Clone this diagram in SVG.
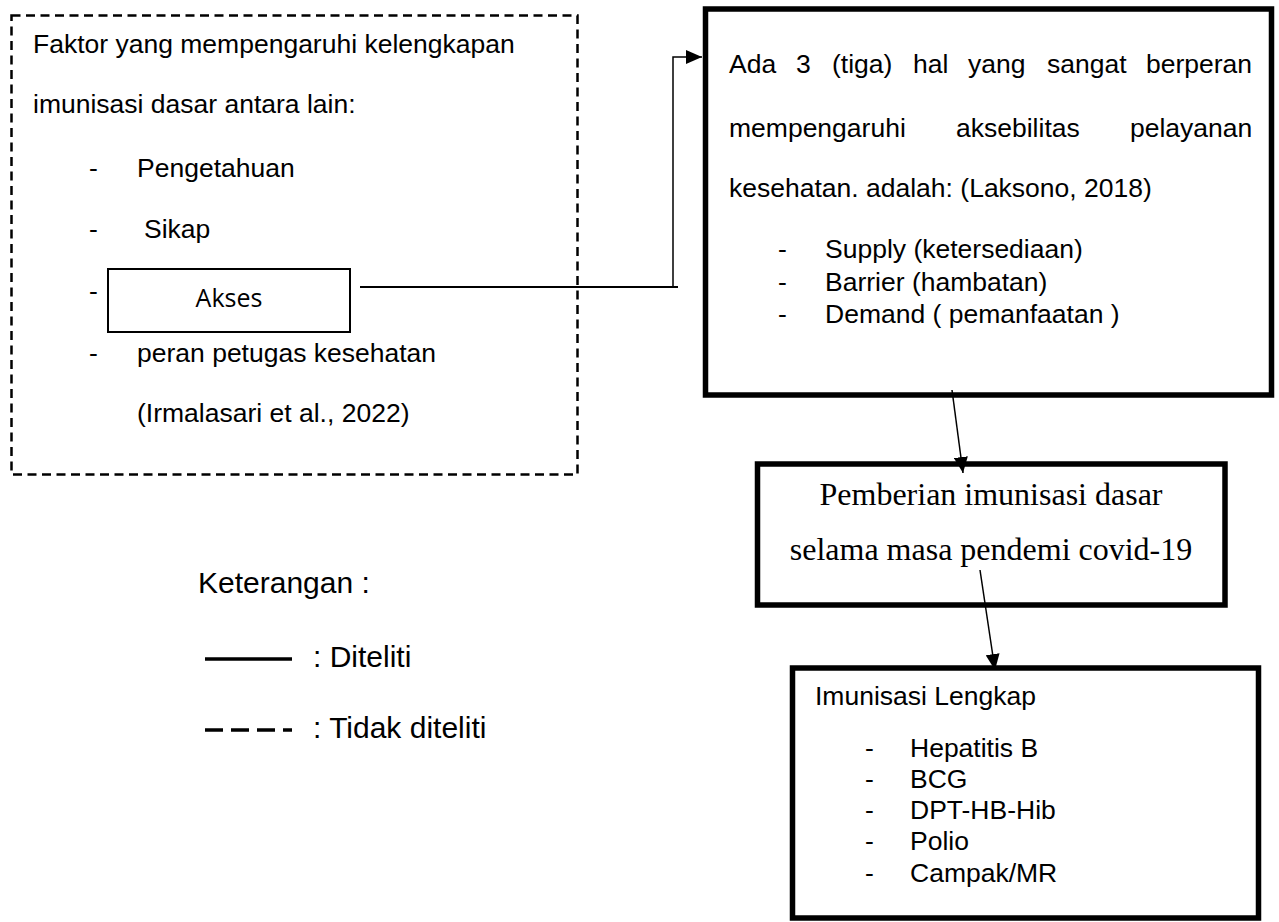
<svg xmlns="http://www.w3.org/2000/svg" width="1279" height="922" viewBox="0 0 1279 922">
<defs>
<style>
.t{font-family:"Liberation Sans",Arial,sans-serif;font-size:26.5px;fill:#000}
.tm{font-family:"Liberation Serif","Times New Roman",serif;font-size:32px;fill:#000}
.lg{font-family:"Liberation Sans",Arial,sans-serif;font-size:30px;fill:#000}
.ak{font-family:"Open Sans","Liberation Sans",sans-serif;font-size:25px;fill:#000}
.thick{fill:#fff;stroke:#000;stroke-width:5.5}
.conn{fill:none;stroke:#000;stroke-width:1.5}
</style>
<marker id="ah" viewBox="0 0 16 14" refX="16" refY="7" markerWidth="16" markerHeight="14" markerUnits="userSpaceOnUse" orient="auto">
<path d="M0,0 L16,7 L0,14 Z" fill="#000"/>
</marker>
</defs>
<rect width="1279" height="922" fill="#fff"/>

<g id="faktor">
<rect x="11.5" y="15.5" width="566" height="459" fill="none" stroke="#000" stroke-width="2.5" stroke-dasharray="9,5.5"/>
<text class="t" x="33" y="53">Faktor yang mempengaruhi kelengkapan</text>
<text class="t" x="33" y="113">imunisasi dasar antara lain:</text>
<text class="t" x="89" y="177">-</text>
<text class="t" x="137" y="177">Pengetahuan</text>
<text class="t" x="89" y="238">-</text>
<text class="t" x="144" y="238">Sikap</text>
<text class="t" x="89" y="300">-</text>
<text class="t" x="89" y="362">-</text>
<text class="t" x="137" y="362">peran petugas kesehatan</text>
<text class="t" x="137" y="422">(Irmalasari et al., 2022)</text>
</g>

<g id="akses">
<rect x="108" y="269" width="242" height="63" fill="#fff" stroke="#000" stroke-width="2"/>
<text class="ak" x="229" y="307" text-anchor="middle">Akses</text>
</g>

<g id="aksesibilitas">
<rect class="thick" x="705.5" y="9" width="566" height="386"/>
<text class="t" y="73"><tspan x="729">Ada</tspan><tspan x="796">3</tspan><tspan x="832">(tiga)</tspan><tspan x="913">hal</tspan><tspan x="968">yang</tspan><tspan x="1047">sangat</tspan><tspan x="1146">berperan</tspan></text>
<text class="t" y="137"><tspan x="729">mempengaruhi</tspan><tspan x="956">aksebilitas</tspan><tspan x="1130">pelayanan</tspan></text>
<text class="t" x="729" y="197">kesehatan. adalah: (Laksono, 2018)</text>
<text class="t" x="778" y="258">-</text>
<text class="t" x="825" y="258">Supply (ketersediaan)</text>
<text class="t" x="778" y="291">-</text>
<text class="t" x="825" y="291">Barrier (hambatan)</text>
<text class="t" x="778" y="323">-</text>
<text class="t" x="825" y="323">Demand ( pemanfaatan )</text>
</g>

<g id="pemberian">
<rect class="thick" x="757.5" y="464" width="467.5" height="141"/>
<text class="tm" x="991" y="505" text-anchor="middle">Pemberian imunisasi dasar</text>
<text class="tm" x="991" y="560" text-anchor="middle">selama masa pendemi covid-19</text>
</g>

<g id="lengkap">
<rect class="thick" x="792.5" y="668" width="466" height="250"/>
<text class="t" x="815" y="705">Imunisasi Lengkap</text>
<text class="t" x="865" y="757">-</text>
<text class="t" x="910" y="757">Hepatitis B</text>
<text class="t" x="865" y="788">-</text>
<text class="t" x="910" y="788">BCG</text>
<text class="t" x="865" y="819">-</text>
<text class="t" x="910" y="819">DPT-HB-Hib</text>
<text class="t" x="865" y="850">-</text>
<text class="t" x="910" y="850">Polio</text>
<text class="t" x="865" y="882">-</text>
<text class="t" x="910" y="882">Campak/MR</text>
</g>

<g id="connectors">
<polyline points="360,287 678,287" fill="none" stroke="#000" stroke-width="2"/>
<polyline class="conn" points="673,287 673,57 702,57" marker-end="url(#ah)"/>
<line class="conn" x1="952" y1="390" x2="963" y2="473" marker-end="url(#ah)"/>
<line class="conn" x1="980" y1="570" x2="995" y2="670" marker-end="url(#ah)"/>
</g>

<g id="legend">
<text class="lg" x="198" y="593">Keterangan :</text>
<line x1="205" y1="659" x2="292" y2="659" stroke="#000" stroke-width="3.5"/>
<text class="lg" x="313" y="667">: Diteliti</text>
<line x1="205" y1="730" x2="292" y2="730" stroke="#000" stroke-width="3.5" stroke-dasharray="18,8"/>
<text class="lg" x="313" y="738">: Tidak diteliti</text>
</g>
</svg>
